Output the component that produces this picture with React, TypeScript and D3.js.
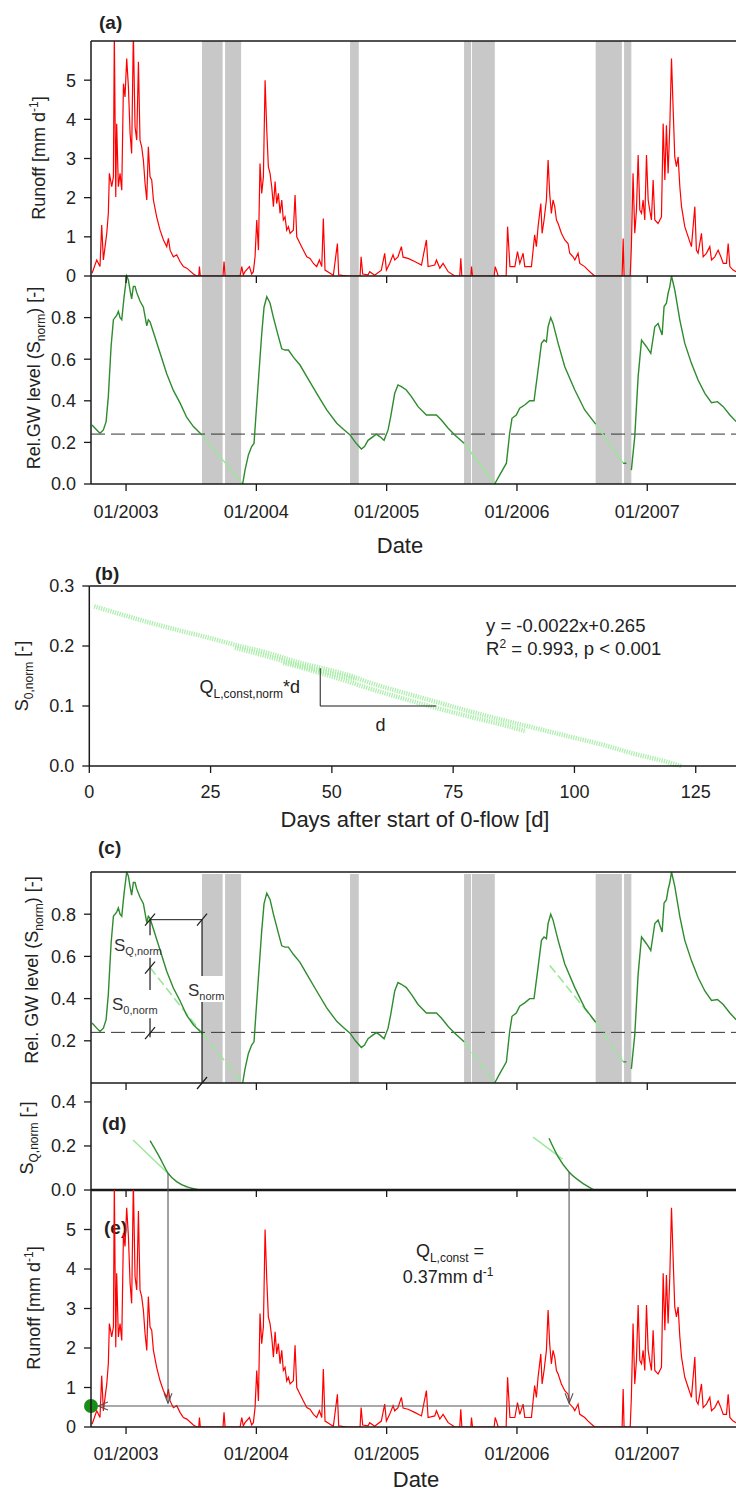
import React from "react";
import * as d3 from "d3";

const FONT = "'Liberation Sans', Arial, Helvetica, sans-serif";
const AX = "#1a1a1a";
const RED = "#ff0000";
const GREEN = "#2e8b2e";
const LIGHT = "#98e898";
const BAND = "#c8c8c8";

// ---------- time axis ----------
const yearTicks = [2003, 2004, 2005, 2006, 2007];
const yearLabels = ["01/2003", "01/2004", "01/2005", "01/2006", "01/2007"];

// ---------- zero-flow periods (decimal years) ----------
const bandStart = [2003.583, 2003.760, 2004.719, 2005.594, 2005.655, 2006.604, 2006.822];
const bandEnd = [2003.741, 2003.883, 2004.786, 2005.648, 2005.830, 2006.805, 2006.878];

// ---------- runoff [mm/d] ----------
const runoffDate = [
  2002.739, 2002.775, 2002.800, 2002.813, 2002.826, 2002.839, 2002.852, 2002.864, 2002.872, 2002.890,
  2002.903, 2002.910, 2002.921, 2002.928, 2002.941, 2002.954, 2002.967, 2002.980, 2002.992, 2003.005,
  2003.018, 2003.031, 2003.043, 2003.056, 2003.069, 2003.082, 2003.095, 2003.107, 2003.120, 2003.133,
  2003.146, 2003.159, 2003.171, 2003.184, 2003.197, 2003.210, 2003.235, 2003.261, 2003.287, 2003.312,
  2003.325, 2003.338, 2003.363, 2003.389, 2003.414, 2003.440, 2003.466, 2003.517, 2003.542, 2003.558,
  2003.563, 2003.570, 2003.744, 2003.752, 2003.760, 2003.875, 2003.888, 2003.900, 2003.913, 2003.947,
  2003.964, 2003.977, 2003.990, 2004.003, 2004.016, 2004.028, 2004.041, 2004.054, 2004.067, 2004.080,
  2004.092, 2004.105, 2004.118, 2004.131, 2004.144, 2004.156, 2004.169, 2004.182, 2004.195, 2004.207,
  2004.220, 2004.233, 2004.246, 2004.259, 2004.284, 2004.297, 2004.310, 2004.335, 2004.361, 2004.387,
  2004.412, 2004.438, 2004.463, 2004.484, 2004.502, 2004.514, 2004.527, 2004.566, 2004.591, 2004.622,
  2004.632, 2004.694, 2004.796, 2004.804, 2004.816, 2004.857,
  2004.870, 2004.908, 2004.959, 2004.985, 2004.998, 2005.023, 2005.049, 2005.062, 2005.087, 2005.113,
  2005.126, 2005.164, 2005.215, 2005.267, 2005.305, 2005.318, 2005.369, 2005.382, 2005.408, 2005.433,
  2005.472, 2005.523, 2005.561, 2005.569, 2005.577, 2005.646, 2005.651, 2005.659, 2005.825, 2005.833,
  2005.846, 2005.856, 2005.917, 2005.928, 2005.946, 2005.984, 2006.004, 2006.022, 2006.047, 2006.060,
  2006.111, 2006.136, 2006.149, 2006.162, 2006.183, 2006.193, 2006.208, 2006.226, 2006.239, 2006.251,
  2006.264, 2006.277, 2006.290, 2006.303, 2006.316, 2006.341, 2006.367, 2006.392, 2006.405, 2006.431,
  2006.444, 2006.469, 2006.482, 2006.520, 2006.546, 2006.572, 2006.597, 2006.807, 2006.815, 2006.822,
  2006.869, 2006.878, 2006.891, 2006.904, 2006.917, 2006.930, 2006.943, 2006.956, 2006.968, 2006.981,
  2006.994, 2007.007, 2007.019, 2007.032, 2007.045, 2007.058, 2007.083, 2007.109, 2007.122, 2007.135,
  2007.147, 2007.160, 2007.173, 2007.186, 2007.199, 2007.211, 2007.224, 2007.237, 2007.250, 2007.263,
  2007.288, 2007.314, 2007.339, 2007.365, 2007.377, 2007.390, 2007.416, 2007.429, 2007.454, 2007.480,
  2007.493, 2007.518, 2007.544, 2007.565, 2007.583, 2007.608, 2007.621, 2007.634, 2007.659, 2007.682,
];
const runoffValue = [
  0.07, 0.41, 0.24, 1.30, 0.41, 0.75, 1.09, 1.60, 2.62, 2.28,
  2.53, 6.2, 2.02, 3.89, 2.28, 2.62, 2.19, 4.91, 4.57, 5.55,
  4.83, 3.64, 3.13, 6.2, 3.81, 3.47, 5.47, 3.47, 3.30, 2.96,
  2.36, 1.94, 3.30, 2.53, 2.45, 1.94, 1.51, 1.17, 0.92, 0.75,
  0.96, 0.66, 0.49, 0.54, 0.37, 0.24, 0.20, 0.05, 0, 0,
  0.24, 0, 0, 0.37, 0, 0, 0.24, 0.03, 0.11, 0.24,
  0.05, 0.11, 0.49, 1.43, 0.66, 2.87, 2.11, 2.53, 5.00, 3.72,
  2.79, 2.62, 2.28, 1.77, 2.41, 1.85, 2.11, 1.60, 1.94, 1.43,
  1.51, 1.17, 1.26, 1.09, 1.17, 2.07, 1.00, 0.83, 0.66, 0.49,
  0.45, 0.32, 0.24, 0.41, 0.24, 1.47, 0.15, 0.07, 0.02, 0.83,
  0.03, 0, 0, 0.49, 0.05, 0.03,
  0.11, 0.02, 0.15, 0.58, 0.15, 0.32, 0.54, 0.41, 0.49, 0.75,
  0.48, 0.45, 0.37, 0.28, 0.92, 0.24, 0.28, 0.41, 0.20, 0.32,
  0.11, 0, 0, 0.45, 0, 0, 0.24, 0, 0, 0.24,
  0.11, 0, 0, 1.26, 0.24, 0.24, 0.62, 0.32, 0.58, 0.24,
  0.24, 1.05, 0.75, 1.26, 1.85, 1.09, 1.43, 1.94, 2.96, 2.11,
  1.60, 1.94, 1.77, 1.43, 1.34, 1.09, 0.92, 0.83, 0.58, 0.49,
  0.41, 0.58, 0.32, 0.24, 0.15, 0.07, 0, 0, 0.96, 0,
  0, 0.75, 2.62, 1.09, 1.68, 3.09, 1.68, 1.60, 1.94, 1.43,
  3.09, 1.94, 1.68, 1.43, 2.45, 1.43, 1.34, 1.51, 3.89, 2.45,
  3.85, 2.62, 3.81, 5.55, 4.23, 3.04, 2.79, 3.04, 2.28, 1.77,
  1.26, 1.00, 0.75, 1.77, 0.66, 0.58, 1.09, 0.49, 0.58, 0.75,
  0.41, 0.49, 0.66, 0.49, 0.32, 0.32, 0.83, 0.24, 0.15, 0.11,
];

// ---------- relative groundwater level S_norm (null = gap) ----------
const gwDate = [
  2002.739, 2002.775, 2002.800, 2002.826, 2002.847, 2002.864, 2002.885, 2002.903, 2002.928, 2002.941,
  2002.954, 2002.967, 2002.985, 2003.005, 2003.018, 2003.031, 2003.043, 2003.056, 2003.069, 2003.082,
  2003.107, 2003.133, 2003.159, 2003.171, 2003.184, 2003.210, 2003.261, 2003.312, 2003.363, 2003.414,
  2003.466, 2003.517, 2003.583,
  2003.700,
  2003.895, 2003.913, 2003.939, 2003.964, 2003.982, 2003.998, 2004.016, 2004.041, 2004.059, 2004.080,
  2004.105, 2004.131, 2004.169, 2004.195, 2004.220, 2004.246, 2004.284, 2004.335, 2004.387, 2004.463,
  2004.540, 2004.617, 2004.668, 2004.719, 2004.760, 2004.806, 2004.830, 2004.857, 2004.896, 2004.921,
  2004.947, 2004.980, 2005.011, 2005.031, 2005.062, 2005.087, 2005.113, 2005.151, 2005.190, 2005.241,
  2005.305, 2005.343, 2005.382, 2005.420, 2005.472, 2005.523, 2005.594,
  2005.700,
  2005.829, 2005.867, 2005.919, 2005.944, 2005.962, 2005.995, 2006.021, 2006.059, 2006.098, 2006.131,
  2006.162, 2006.188, 2006.208, 2006.226, 2006.239, 2006.259, 2006.277, 2006.316, 2006.367, 2006.444,
  2006.520, 2006.604,
  2006.700,
  2006.815, 2006.840,
  2006.860,
  2006.878, 2006.904, 2006.930, 2006.956, 2006.994, 2007.027, 2007.058, 2007.083, 2007.114, 2007.129,
  2007.147, 2007.160, 2007.173, 2007.186, 2007.211, 2007.250, 2007.288, 2007.339, 2007.390, 2007.442,
  2007.493, 2007.539, 2007.583, 2007.634, 2007.682,
];
const gwLevel = [
  0.284, 0.26, 0.244, 0.26, 0.30, 0.42, 0.66, 0.79, 0.81, 0.83,
  0.80, 0.79, 0.90, 1.0, 0.98, 0.93, 0.89, 0.95, 0.95, 0.92,
  0.88, 0.85, 0.76, 0.79, 0.78, 0.73, 0.63, 0.53, 0.45, 0.39,
  0.32, 0.276, 0.236,
  null,
  0.0, 0.067, 0.14, 0.18, 0.195, 0.34, 0.50, 0.72, 0.85, 0.90,
  0.87, 0.80, 0.71, 0.65, 0.644, 0.644, 0.61, 0.572, 0.516, 0.436,
  0.356, 0.292, 0.263, 0.236, 0.20, 0.168, 0.18, 0.21, 0.228, 0.239,
  0.228, 0.21, 0.26, 0.324, 0.436, 0.476, 0.468, 0.452, 0.42, 0.372,
  0.332, 0.332, 0.332, 0.308, 0.268, 0.236, 0.196,
  null,
  0.0, 0.043, 0.10, 0.244, 0.316, 0.332, 0.364, 0.38, 0.40, 0.40,
  0.548, 0.676, 0.692, 0.684, 0.756, 0.80, 0.772, 0.676, 0.564, 0.452,
  0.356, 0.288,
  null,
  0.10, 0.10,
  null,
  0.067, 0.228, 0.516, 0.692, 0.66, 0.628, 0.756, 0.772, 0.716, 0.853,
  0.869, 0.917, 0.949, 1.0, 0.933, 0.788, 0.676, 0.58, 0.50, 0.436,
  0.391, 0.396, 0.372, 0.332, 0.30,
];
const thresholdLevel = 0.24;

// ---------- linear recession during zero flow ----------
const recDate0 = [2003.583, 2005.594, 2006.604];
const recVal0 = [0.236, 0.196, 0.288];
const recDate1 = [2003.895, 2005.829, 2006.815];
const recVal1 = [0.0, 0.0, 0.10];
// backward extrapolation shown in (c)
const extDate0 = [2003.184, 2006.252];
const extVal0 = [0.547, 0.557];
const extDate1 = [2003.583, 2006.604];
const extVal1 = [0.236, 0.288];

// ---------- (b) S0,norm vs days after start of 0-flow ----------
const dayTicks = [0, 25, 50, 75, 100, 125];
const b1Day = [1, 6, 12, 18, 25, 30, 37, 43, 48, 54, 57, 64, 71, 78, 85, 92, 99, 106, 112, 119, 122];
const b1Val = [0.266, 0.254, 0.240, 0.227, 0.213, 0.202, 0.188, 0.173, 0.163, 0.150, 0.141, 0.124, 0.108, 0.092, 0.077, 0.063, 0.049, 0.035, 0.021, 0.007, 0.0];
const b2Day = [40, 48, 54, 57, 64, 71, 78, 85, 90];
const b2Val = [0.172, 0.154, 0.139, 0.131, 0.114, 0.098, 0.083, 0.069, 0.058];
const b3Day = [30, 37, 43, 48, 55];
const b3Val = [0.197, 0.182, 0.168, 0.158, 0.145];

// ---------- (d) S_Q,norm ----------
const sq1Date = [2003.184, 2003.261, 2003.322, 2003.391, 2003.468, 2003.568];
const sq1Val = [0.224, 0.145, 0.077, 0.037, 0.014, 0.0];
const sq2Date = [2006.246, 2006.315, 2006.400, 2006.492, 2006.592];
const sq2Val = [0.235, 0.152, 0.082, 0.036, 0.0];
const sqLinDate0 = [2003.054, 2006.124];
const sqLinVal0 = [0.227, 0.24];
const sqLinDate1 = [2003.34, 2006.35];
const sqLinVal1 = [0.065, 0.14];

// ---------- annotations ----------
const arrowDate = [2003.322, 2006.400];
const arrowFromSQ = [0.077, 0.082];
const arrowToRunoff = 0.6;
const qConstLevel = 0.53;
const annoDate = 2003.184;
const annoEdge = 2003.583;
const annoTop = 0.774;
const annoMid = 0.547;
const annoBase = 0.236;
const annoSegTop = [0.774, 0.594, 0.307];
const annoSegBot = [0.70, 0.441, 0.217];

function YAxis({ scale, values, x, top, bottom, digits, fs = 18 }: any) {
  return (
    <g>
      <line x1={x} x2={x} y1={top} y2={bottom} stroke={AX} strokeWidth={1.5} />
      {values.map((v: number) => (
        <g key={v}>
          <line x1={x - 7} x2={x} y1={scale(v)} y2={scale(v)} stroke={AX} strokeWidth={1.3} />
          <text x={x - 15} y={scale(v)} dy="0.36em" textAnchor="end" fontSize={fs} fill="#222">
            {v.toFixed(digits)}
          </text>
        </g>
      ))}
    </g>
  );
}

function XTicks({ scale, values, y, labels, labelDy = 34, fs = 18 }: any) {
  return (
    <g>
      {values.map((v: number, i: number) => (
        <g key={v}>
          <line x1={scale(v)} x2={scale(v)} y1={y} y2={y + 7} stroke={AX} strokeWidth={1.3} />
          {labels && (
            <text x={scale(v)} y={y + labelDy} textAnchor="middle" fontSize={fs} fill="#222">
              {labels[i]}
            </text>
          )}
        </g>
      ))}
    </g>
  );
}

function Slash({ x, y }: any) {
  return <line x1={x - 5} y1={y + 6} x2={x + 5} y2={y - 6} stroke={AX} strokeWidth={1.2} />;
}

export default function App() {
  const xT = d3.scaleLinear().domain([2002.731, 2007.681]).range([91, 736]);
  const yRa = d3.scaleLinear().domain([0, 6]).range([276, 41]);
  const yGa = d3.scaleLinear().domain([0, 1]).range([484, 276]);
  const xB = d3.scaleLinear().domain([0, 133.3]).range([89.3, 736]);
  const yB = d3.scaleLinear().domain([0, 0.3]).range([766, 586]);
  const yGc = d3.scaleLinear().domain([0, 1]).range([1083, 872]);
  const yD = d3.scaleLinear().domain([0, 0.486]).range([1190, 1083]);
  const yRe = d3.scaleLinear().domain([0, 6]).range([1427, 1190]);

  const runoffPts = runoffDate.map((t, i) => [t, runoffValue[i]]);
  const gwPts = gwDate.map((t, i) => [t, gwLevel[i]]);
  const runoffPath = (ys: any) =>
    d3.line<any>().x((d) => xT(d[0])).y((d) => ys(d[1]))(runoffPts as any) || "";
  const gwPath = (ys: any) =>
    d3
      .line<any>()
      .defined((d) => d[1] !== null)
      .x((d) => xT(d[0]))
      .y((d) => ys(d[1]))(gwPts as any) || "";
  const bLine = d3.line<any>().curve(d3.curveMonotoneX).x((d) => xB(d[0])).y((d) => yB(d[1]));
  const sqLine = d3
    .line<any>()
    .curve(d3.curveMonotoneX)
    .x((d) => xT(d[0]))
    .y((d) => yD(d[1]));

  const bands = (top: number, bottom: number) =>
    bandStart.map((s, i) => (
      <rect key={i} x={xT(s)} y={top} width={xT(bandEnd[i]) - xT(s)} height={bottom - top} fill={BAND} />
    ));

  const bSeries = [
    b1Day.map((d, i) => [d, b1Val[i]]),
    b2Day.map((d, i) => [d, b2Val[i]]),
    b3Day.map((d, i) => [d, b3Val[i]]),
  ];

  const xA = annoDate;
  return (
    <svg
      width={736}
      height={1494}
      style={{ position: "absolute", left: 0, top: 0, display: "block", background: "#fff" }}
      fontFamily={FONT}
    >
      <defs>
        <clipPath id="clipA">
          <rect x={91} y={41} width={645} height={235} />
        </clipPath>
        <clipPath id="clipE">
          <rect x={91} y={1190} width={645} height={237} />
        </clipPath>
      </defs>
      <rect x={0} y={0} width={736} height={1494} fill="#fff" />

      {/* ================= (a) ================= */}
      <text x={99} y={29} fontSize={19} fontWeight="bold" fill="#222">(a)</text>
      {bands(41, 484)}
      <path d={runoffPath(yRa)} fill="none" stroke={RED} strokeWidth={1.2} clipPath="url(#clipA)" />
      <line x1={91} x2={736} y1={yGa(thresholdLevel)} y2={yGa(thresholdLevel)} stroke="#333" strokeWidth={1} strokeDasharray="14 6" />
      {recDate0.map((t, i) => (
        <line key={i} x1={xT(t)} y1={yGa(recVal0[i])} x2={xT(recDate1[i])} y2={yGa(recVal1[i])} stroke={LIGHT} strokeWidth={1.4} />
      ))}
      <path d={gwPath(yGa)} fill="none" stroke={GREEN} strokeWidth={1.4} />
      <line x1={91} x2={736} y1={41} y2={41} stroke={AX} strokeWidth={1.5} />
      <line x1={91} x2={736} y1={276} y2={276} stroke={AX} strokeWidth={1.5} />
      <line x1={91} x2={736} y1={484} y2={484} stroke={AX} strokeWidth={1.5} />
      <YAxis scale={yRa} values={[0, 1, 2, 3, 4, 5]} x={91} top={41} bottom={276} digits={0} />
      <YAxis scale={yGa} values={[0, 0.2, 0.4, 0.6, 0.8]} x={91} top={276} bottom={484} digits={1} />
      <XTicks scale={xT} values={yearTicks} y={276} />
      <XTicks scale={xT} values={yearTicks} y={484} labels={yearLabels} labelDy={34} />
      <text x={400} y={553} textAnchor="middle" fontSize={22} fill="#222">Date</text>
      <text transform="translate(45,158) rotate(-90)" textAnchor="middle" fontSize={18} fill="#222">
        Runoff [mm d<tspan dy={-7} fontSize={12}>-1</tspan><tspan dy={7}>]</tspan>
      </text>
      <text transform="translate(40,378) rotate(-90)" textAnchor="middle" fontSize={18} fill="#222">
        Rel.GW level (S<tspan dy={5} fontSize={12}>norm</tspan><tspan dy={-5}>) [-]</tspan>
      </text>

      {/* ================= (b) ================= */}
      <text x={95} y={580} fontSize={19} fontWeight="bold" fill="#222">(b)</text>
      {bSeries.map((s, i) => (
        <path key={i} d={bLine(s as any) || ""} fill="none" stroke="#a6eca6" strokeWidth={4.5} strokeDasharray="1.3 1.1" opacity={0.9} />
      ))}
      <line x1={xB(47.6)} x2={xB(47.6)} y1={yB(0.163)} y2={yB(0.1)} stroke={AX} strokeWidth={1} />
      <line x1={xB(47.6)} x2={xB(71.5)} y1={yB(0.1)} y2={yB(0.1)} stroke={AX} strokeWidth={1} />
      <text x={300} y={693} textAnchor="end" fontSize={18} fill="#222">
        Q<tspan dy={5} fontSize={12}>L,const,norm</tspan><tspan dy={-5}>*d</tspan>
      </text>
      <text x={xB(60)} y={731} textAnchor="middle" fontSize={18} fill="#222">d</text>
      <text x={486} y={632} fontSize={18.5} fill="#222">y = -0.0022x+0.265</text>
      <text x={486} y={655} fontSize={18.5} fill="#222">
        R<tspan dy={-7} fontSize={12}>2</tspan><tspan dy={7}> = 0.993, p &lt; 0.001</tspan>
      </text>
      <line x1={89.3} x2={736} y1={586} y2={586} stroke={AX} strokeWidth={1.5} />
      <line x1={89.3} x2={736} y1={766} y2={766} stroke={AX} strokeWidth={1.5} />
      <YAxis scale={yB} values={[0, 0.1, 0.2, 0.3]} x={89.3} top={586} bottom={766} digits={1} />
      <XTicks scale={xB} values={dayTicks} y={766} labels={dayTicks.map(String)} labelDy={32} />
      <text x={415} y={827} textAnchor="middle" fontSize={22} fill="#222">Days after start of 0-flow [d]</text>
      <text transform="translate(28,676) rotate(-90)" textAnchor="middle" fontSize={18} fill="#222">
        S<tspan dy={5} fontSize={12}>0,norm</tspan><tspan dy={-5}> [-]</tspan>
      </text>

      {/* ================= (c) ================= */}
      <text x={98} y={854} fontSize={19} fontWeight="bold" fill="#222">(c)</text>
      {bands(874, 1083)}
      <line x1={91} x2={736} y1={yGc(thresholdLevel)} y2={yGc(thresholdLevel)} stroke="#333" strokeWidth={1} strokeDasharray="14 6" />
      {extDate0.map((t, i) => (
        <line key={"e" + i} x1={xT(t)} y1={yGc(extVal0[i])} x2={xT(extDate1[i])} y2={yGc(extVal1[i])} stroke={LIGHT} strokeWidth={1.6} strokeDasharray="9 4" />
      ))}
      {recDate0.map((t, i) => (
        <line key={"r" + i} x1={xT(t)} y1={yGc(recVal0[i])} x2={xT(recDate1[i])} y2={yGc(recVal1[i])} stroke={LIGHT} strokeWidth={1.6} strokeDasharray="9 4" />
      ))}
      <path d={gwPath(yGc)} fill="none" stroke={GREEN} strokeWidth={1.4} />
      {/* annotation */}
      <line x1={xT(xA)} x2={xT(annoEdge)} y1={yGc(annoTop)} y2={yGc(annoTop)} stroke={AX} strokeWidth={1} />
      {annoSegTop.map((v, i) => (
        <line key={i} x1={xT(xA)} x2={xT(xA)} y1={yGc(v)} y2={yGc(annoSegBot[i])} stroke={AX} strokeWidth={1.2} />
      ))}
      <line x1={xT(annoEdge)} x2={xT(annoEdge)} y1={yGc(annoTop)} y2={yGc(0)} stroke={AX} strokeWidth={1.2} />
      <Slash x={xT(xA)} y={yGc(annoTop)} />
      <Slash x={xT(xA)} y={yGc(annoMid)} />
      <Slash x={xT(xA)} y={yGc(annoBase)} />
      <Slash x={xT(annoEdge)} y={yGc(annoTop)} />
      <Slash x={xT(annoEdge)} y={yGc(0)} />
      <text x={114} y={951} fontSize={17} fill="#333">
        S<tspan dy={4} fontSize={11}>Q,norm</tspan>
      </text>
      <text x={112} y={1010} fontSize={17} fill="#333">
        S<tspan dy={4} fontSize={11}>0,norm</tspan>
      </text>
      <rect x={185} y={976} width={40} height={26} fill="#fff" />
      <text x={188} y={996} fontSize={17} fill="#333">
        S<tspan dy={4} fontSize={11}>norm</tspan>
      </text>
      <line x1={91} x2={736} y1={872} y2={872} stroke={AX} strokeWidth={1.5} />
      <line x1={91} x2={736} y1={1083} y2={1083} stroke={AX} strokeWidth={1.5} />
      <YAxis scale={yGc} values={[0.2, 0.4, 0.6, 0.8]} x={91} top={872} bottom={1083} digits={1} />
      <XTicks scale={xT} values={yearTicks} y={1083} />
      <text transform="translate(38,970) rotate(-90)" textAnchor="middle" fontSize={18} fill="#222">
        Rel. GW level (S<tspan dy={5} fontSize={12}>norm</tspan><tspan dy={-5}>) [-]</tspan>
      </text>

      {/* ================= (d) ================= */}
      <text x={102} y={1130} fontSize={19} fontWeight="bold" fill="#222">(d)</text>
      {sqLinDate0.map((t, i) => (
        <line key={i} x1={xT(t)} y1={yD(sqLinVal0[i])} x2={xT(sqLinDate1[i])} y2={yD(sqLinVal1[i])} stroke={LIGHT} strokeWidth={1.4} />
      ))}
      <path d={sqLine(sq1Date.map((t, i) => [t, sq1Val[i]]) as any) || ""} fill="none" stroke={GREEN} strokeWidth={1.4} />
      <path d={sqLine(sq2Date.map((t, i) => [t, sq2Val[i]]) as any) || ""} fill="none" stroke={GREEN} strokeWidth={1.4} />
      <line x1={91} x2={736} y1={1190} y2={1190} stroke={AX} strokeWidth={2.6} />
      <YAxis scale={yD} values={[0, 0.2, 0.4]} x={91} top={1083} bottom={1190} digits={1} />
      <XTicks scale={xT} values={yearTicks} y={1190} />
      <text transform="translate(33,1138) rotate(-90)" textAnchor="middle" fontSize={18} fill="#222">
        S<tspan dy={5} fontSize={12}>Q,norm</tspan><tspan dy={-5}> [-]</tspan>
      </text>

      {/* ================= (e) ================= */}
      <text x={104} y={1234} fontSize={19} fontWeight="bold" fill="#222">(e)</text>
      <path d={runoffPath(yRe)} fill="none" stroke={RED} strokeWidth={1.2} clipPath="url(#clipE)" />
      {arrowDate.map((t, i) => {
        const x = xT(t);
        const y2 = yRe(arrowToRunoff);
        return (
          <g key={i}>
            <line x1={x} x2={x} y1={yD(arrowFromSQ[i])} y2={y2} stroke="#555" strokeWidth={1.1} />
            <polyline points={`${x - 4},${y2 - 10} ${x},${y2} ${x + 4},${y2 - 10}`} fill="none" stroke="#555" strokeWidth={1.1} />
          </g>
        );
      })}
      <line x1={98} x2={xT(arrowDate[1])} y1={yRe(qConstLevel)} y2={yRe(qConstLevel)} stroke="#555" strokeWidth={1.1} />
      <polyline
        points={`${108},${yRe(qConstLevel) - 4} ${98},${yRe(qConstLevel)} ${108},${yRe(qConstLevel) + 4}`}
        fill="none"
        stroke="#555"
        strokeWidth={1.1}
      />
      <circle cx={91} cy={yRe(qConstLevel)} r={7} fill="#1a8c1a" />
      <text x={450} y={1257} textAnchor="middle" fontSize={18} fill="#222">
        Q<tspan dy={5} fontSize={12}>L,const</tspan><tspan dy={-5}> =</tspan>
      </text>
      <text x={448} y={1283} textAnchor="middle" fontSize={18} fill="#222">
        0.37mm d<tspan dy={-7} fontSize={12}>-1</tspan>
      </text>
      <line x1={91} x2={736} y1={1427} y2={1427} stroke={AX} strokeWidth={1.5} />
      <YAxis scale={yRe} values={[0, 1, 2, 3, 4, 5]} x={91} top={1190} bottom={1427} digits={0} />
      <XTicks scale={xT} values={yearTicks} y={1427} labels={yearLabels} labelDy={33} />
      <text x={416} y={1487} textAnchor="middle" fontSize={22} fill="#222">Date</text>
      <text transform="translate(40,1308) rotate(-90)" textAnchor="middle" fontSize={18} fill="#222">
        Runoff [mm d<tspan dy={-7} fontSize={12}>-1</tspan><tspan dy={7}>]</tspan>
      </text>
    </svg>
  );
}
